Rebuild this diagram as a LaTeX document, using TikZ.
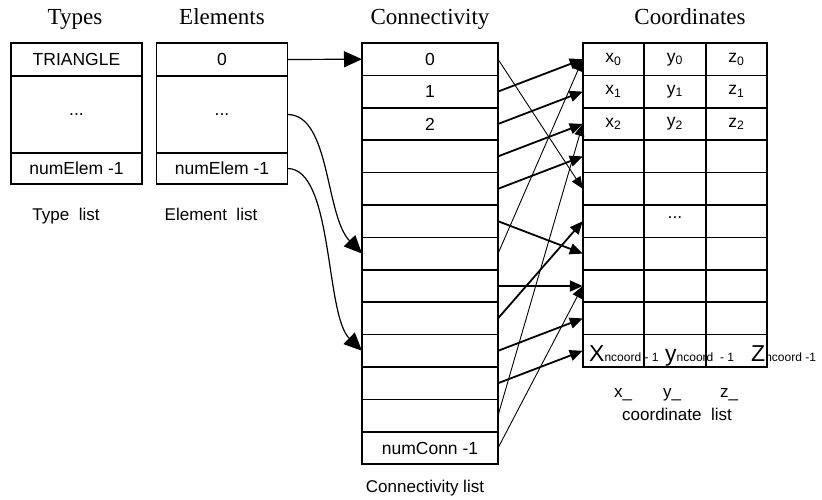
\documentclass[tikz,border=0pt]{standalone}
\usepackage{fontspec}
\setmainfont{Liberation Serif}
\setsansfont{Liberation Sans}
\usetikzlibrary{arrows.meta}

\tikzset{
  cell/.style={draw, line width=1.6pt, inner sep=0pt, outer sep=0pt, font=\sffamily\fontsize{17.5}{19}\selectfont},
  listcell/.style={cell, minimum width=131pt},
  conncell/.style={cell, minimum width=136pt, minimum height=32.4pt},
  coordcell/.style={cell, minimum width=61.5pt, minimum height=32.4pt},
  title/.style={anchor=base, inner sep=0pt, font=\fontsize{23}{25}\selectfont},
  caption/.style={anchor=base, inner sep=0pt, font=\sffamily\fontsize{17}{19}\selectfont},
  bigsub/.style={anchor=base west, inner sep=0pt, font=\sffamily\fontsize{23}{24}\selectfont},
  bigtip/.style={-{Triangle[length=18pt,width=16pt]}, line width=1.2pt},
  link/.style={-{Triangle[length=13pt,width=11pt]}, line width=1.8pt},
  thinlink/.style={-{Triangle[length=12pt,width=10pt]}, line width=0.9pt}
}
\newcommand{\smallsub}[1]{{\fontsize{12}{13}\selectfont #1}}

\begin{document}
\begin{tikzpicture}[x=1pt, y=-1pt]
\useasboundingbox (0,0) rectangle (822,500);

% Drawing titles
\node[title] (ttypes) at (75,25) {Types};
\node[title] (telem) at (222,25) {Elements};
\node[title] (tconn) at (430,25) {Connectivity};
\node[title] (tcoord) at (690,25) {Coordinates};

% Drawing type list
\node[listcell, minimum height=33pt] (t0) at (76.5,59.5) {TRIANGLE};
\node[listcell, minimum height=77pt] (t1) at (76.5,114.5) {...};
\node[listcell, minimum height=31pt] (t2) at (76.5,168.5) {numElem -1};
\node[caption] (ltypes) at (66,220) {Type\ \ list};

% Drawing element list
\node[listcell, minimum height=33pt] (e0) at (222,59.5) {0};
\node[listcell, minimum height=77pt] (e1) at (222,114.5) {...};
\node[listcell, minimum height=31pt] (e2) at (222,168.5) {numElem -1};
\node[caption] (lelem) at (211,220) {Element\ \ list};

% Drawing connectivity list
\node[conncell] (c0) at (430,59.2) {0};
\node[conncell] (c1) at (430,91.6) {1};
\node[conncell] (c2) at (430,124) {2};
\foreach \i in {3,...,11}
  \node[conncell] (c\i) at (430,59.2+32.4*\i) {};
\node[conncell] (c12) at (430,448) {numConn -1};
\node[caption] (lconn) at (425,492) {Connectivity list};

% Drawing coordinate list
\foreach \r in {0,1,2}
  \foreach \k/\xc/\v in {0/613.5/x,1/675/y,2/736.5/z}
    \node[coordcell] (p\r-\k) at (\xc,59.2+32.4*\r) {\v\textsubscript{\r}};
\foreach \r in {3,...,9}
  \foreach \k/\xc in {0/613.5,1/675,2/736.5}
    \node[coordcell] (p\r-\k) at (\xc,59.2+32.4*\r) {};
\node[font=\sffamily\fontsize{17.5}{19}\selectfont] (pdots) at ([yshift=4pt]p5-1) {...};
\node[bigsub] (xlast) at (589,361) {X\smallsub{ncoord - 1}};
\node[bigsub] (ylast) at (665,361) {y\smallsub{ncoord \ - 1}};
\node[bigsub] (zlast) at (751,361) {Z\smallsub{ncoord -1}};
\node[caption] (lx) at (623,397) {x\_};
\node[caption] (ly) at (672,397) {y\_};
\node[caption] (lz) at (729,397) {z\_};
\node[caption] (lcoord) at (677,420) {coordinate\ \ list};

% Drawing element to connectivity links
\draw[bigtip] (e0.east) -- (c0.west);
\draw[bigtip] (e1.east) .. controls +(43,0) and +(-37,-38) .. (c6.west);
\draw[bigtip] (e2.east) .. controls +(46,0) and +(-37,-36) .. (c9.west);

% Drawing connectivity to coordinate links
\draw[thinlink] (c0.east) -- (p4-0.west);
\draw[link] (c1.east) -- (p0-0.west);
\draw[link] (c2.east) -- (p1-0.west);
\draw[link] (c3.east) -- (p2-0.west);
\draw[link] (c4.east) -- (p3-0.west);
\draw[link] (c5.east) -- (p6-0.west);
\draw[thinlink] (c6.east) -- (p0-0.west);
\draw[link] (c7.east) -- (p7-0.west);
\draw[link] (c8.east) -- (p5-0.west);
\draw[link] (c9.east) -- (p8-0.west);
\draw[link] (c10.east) -- (p9-0.west);
\draw[thinlink] (c11.east) -- (p2-0.west);
\draw[thinlink] (c12.east) -- (p7-0.west);
\end{tikzpicture}
\end{document}
